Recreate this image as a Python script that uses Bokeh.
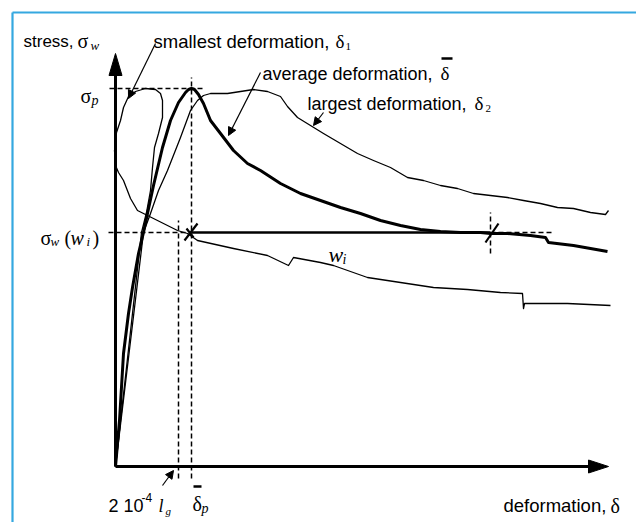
from bokeh.plotting import figure
from bokeh.models import Label, Arrow, NormalHead
from bokeh.embed import file_html
from bokeh.resources import INLINE

# ---- data (deformation, stress in arbitrary units) ----
avg_x = [0, 4, 8, 13, 17, 23, 28, 32, 38, 47, 55, 63, 70, 73, 76, 79, 83, 88, 95, 105, 118, 132, 145,
         165, 185, 205, 225, 245, 265, 285, 305, 325, 345, 365, 375, 392, 415, 430, 433, 458, 492]
avg_y = [0, 46, 113, 153, 179, 213, 234, 253, 281, 319, 346, 364, 374, 377, 378, 377, 372, 363, 346, 333, 316, 303, 296,
         283, 273, 266, 259, 253, 246, 241, 237, 235, 234, 234, 233, 233, 231, 229, 224, 221, 215]

large_x = [0, 28, 35, 43, 52, 65, 75, 82, 88, 95, 112, 125, 138, 152, 165, 172, 182, 195, 208, 225, 242, 258,
           275, 292, 308, 325, 342, 358, 375, 392, 408, 425, 442, 458, 475, 490, 493]
large_y = [0, 234, 253, 276, 296, 329, 356, 366, 371, 373, 373, 375, 377, 375, 370, 360, 349, 341, 333, 323, 313, 306,
           299, 289, 286, 281, 278, 273, 271, 269, 266, 263, 259, 258, 254, 252, 256]

small_x = [0, 26, 31, 35, 37, 39, 43, 47, 47, 45, 40, 30, 20, 13, 8, 5, 1, -1, 0, 3, 8, 15, 22, 32, 42, 52,
           62, 72, 82, 118, 152, 173, 178, 205, 218, 252, 285, 318, 352, 385, 407, 408, 409, 452, 495]
small_y = [0, 234, 254, 276, 299, 319, 333, 349, 366, 373, 377, 378, 375, 370, 359, 346, 334, 316, 301, 294, 286, 268,
           256, 251, 246, 241, 236, 233, 226, 218, 211, 201, 209, 204, 201, 189, 184, 179, 177, 174, 173, 158, 163, 163, 161]

sigma_p = 378      # peak stress
delta_p = 76       # mean deformation at peak
delta_lg = 63      # 2e-4 * gauge length
sigma_wi = 234     # stress at w_i
delta_wi_end = 375 # end of w_i segment
y_top = 413
x_tip = 493

BLUE = "#35A8E0"
SANS = "Liberation Sans"
SERIF = "Liberation Serif"

p = figure(width=636, height=522, x_range=(-115, 521), y_range=(-56, 466),
           output_backend="svg", toolbar_location=None,
           x_axis_location=None, y_axis_location=None, min_border=0)
p.grid.visible = False
p.outline_line_color = None
p.background_fill_color = "white"
p.border_fill_color = "white"

# blue frame (top and left)
p.line([-103, 530], [454, 454], line_color=BLUE, line_width=2.2)
p.line([-103, -103], [-70, 454], line_color=BLUE, line_width=2.2)

# axes with arrows
p.line([0, 0], [0, y_top - 18], line_color="black", line_width=3)
p.line([0, x_tip - 18], [0, 0], line_color="black", line_width=3)
p.patch([0, -6.5, 6.5], [y_top, y_top - 22, y_top - 22], fill_color="black", line_color="black")
p.patch([x_tip, x_tip - 20, x_tip - 20], [0, 6.5, -6.5], fill_color="black", line_color="black")

# dashed reference lines
dash = dict(line_color="black", line_width=1.5, line_dash="5 3")
p.line([-6, 90], [sigma_p, sigma_p], **dash)
p.line([delta_p, delta_p], [-12, sigma_p + 11], **dash)
p.line([delta_lg, delta_lg], [-12, 246], **dash)
p.line([-7, 70], [sigma_wi, sigma_wi], **dash)
p.line([delta_wi_end, 438], [sigma_wi, sigma_wi], **dash)
p.line([delta_wi_end, delta_wi_end], [213, 254], **dash)

# w_i segment
p.line([delta_p, delta_wi_end], [sigma_wi, sigma_wi], line_color="black", line_width=2.6)

# curves
p.line(small_x, small_y, line_color="black", line_width=1.3, line_join="round")
p.line(large_x, large_y, line_color="black", line_width=1.3, line_join="round")
p.line(avg_x, avg_y, line_color="black", line_width=3, line_join="round")

# cross marks
p.segment(x0=[delta_p - 7, delta_p - 5, delta_wi_end - 5], y0=[sigma_wi - 8, sigma_wi + 4, sigma_wi - 10],
          x1=[delta_p + 6, delta_p + 2, delta_wi_end + 8], y1=[sigma_wi + 9, sigma_wi - 5, sigma_wi + 9],
          line_color="black", line_width=2.2)

# annotation arrows
for xs, ys, xe, ye in [(40, 423, 13, 368), (145, 394, 113, 331), (208, 354, 198, 341), (47, -19, 58, -4)]:
    p.add_layout(Arrow(x_start=xs, y_start=ys, x_end=xe, y_end=ye, line_width=1.2,
                       end=NormalHead(size=8, fill_color="black", line_color="black", line_width=1)))

def lab(x, y, t, font=SANS, size=18.5, style="normal"):
    p.add_layout(Label(x=x, y=y, text=t, text_font=font, text_font_size=f"{size}px",
                       text_font_style=style, text_color="black",
                       text_align="left", text_baseline="alphabetic"))

# y-axis title
lab(-92, 425, "stress,", SANS, 17)
lab(-38, 426, "σ", SERIF, 20)
lab(-25, 421, "w", SERIF, 13, "italic")

# curve labels
lab(38, 425, "smallest deformation,")
lab(220, 425, "δ", SERIF, 19)
lab(230, 420, "1", SERIF, 11)
lab(147, 393, "average deformation,", SANS, 18)
lab(325, 393, "δ", SERIF, 19)
lab(192, 363, "largest deformation,", SANS, 18)
lab(359, 363, "δ", SERIF, 19)
lab(370, 358, "2", SERIF, 11)

# overbars
p.segment(x0=[326, 78], y0=[408, -20], x1=[337, 86], y1=[408, -20], line_color="black", line_width=2.5)

# sigma_p
lab(-35, 371, "σ", SERIF, 20)
lab(-24, 366, "p", SERIF, 14, "italic")

# sigma_w (w_i)
lab(-75, 229, "σ", SERIF, 20)
lab(-65, 225, "w", SERIF, 13, "italic")
lab(-51, 229, "(", SERIF, 20)
lab(-45, 229, "w", SERIF, 20, "italic")
lab(-29, 225, "i", SERIF, 13, "italic")
lab(-23, 229, ")", SERIF, 20)

# w_i
lab(213, 212, "w", SERIF, 22, "italic")
lab(227, 207, "i", SERIF, 14, "italic")

# x-axis annotations
lab(-7, -39, "2 10", SANS, 18)
lab(26, -31, "-4", SANS, 12)
lab(43, -39, "l", SERIF, 18, "italic")
lab(50, -44, "g", SERIF, 11, "italic")
lab(77, -37, "δ", SERIF, 20)
lab(86, -42, "p", SERIF, 14, "italic")
lab(388, -39, "deformation,")
lab(495, -39, "δ", SERIF, 20)

open("out.html", "w").write(file_html(p, INLINE))
